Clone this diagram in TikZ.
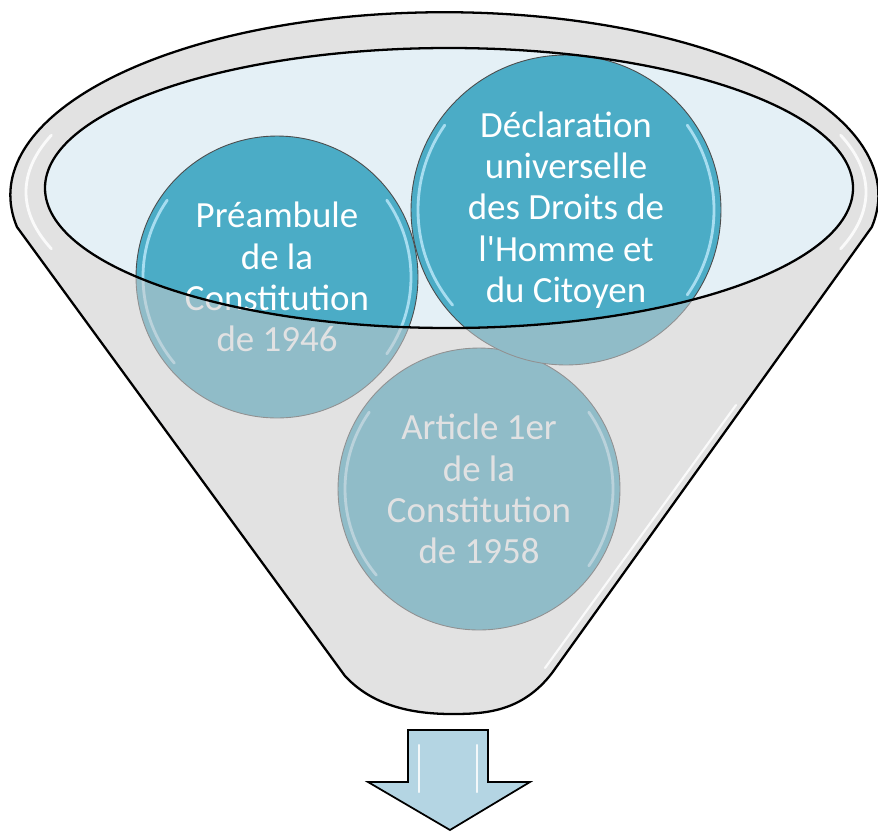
\documentclass[tikz,border=0pt]{standalone}
\usepackage{fontspec}
\setmainfont{Carlito}
\definecolor{bubbleblue}{HTML}{4BACC6}
\definecolor{mouthblue}{HTML}{E4F0F6}
\definecolor{arrowblue}{HTML}{B4D5E3}
\definecolor{frontgray}{HTML}{CACACB}
\begin{document}
\begin{tikzpicture}[x=0.02cm,y=-0.02cm,bubble/.style={circle,draw=black!70,line width=.5pt,fill=bubbleblue,text=white,align=center,inner sep=0pt,font=\fontsize{21}{23.5}\selectfont},shine/.style={draw=cyan!25!white,draw opacity=.8,line width=1.6pt,line cap=round},gloss/.style={draw=white,draw opacity=.85,line width=1.6pt,line cap=round}]
\useasboundingbox (0,0) rectangle (878,832);
% mouth of the funnel
\fill[mouthblue] (449,188) ellipse (404 and 140);
% the three sources
\node[bubble,minimum size=5.64cm] (art) at (479,489) {Article 1er\\de la\\Constitution\\de 1958};
\node[bubble,minimum size=5.64cm] (pre) at (277,277) {Préambule\\de la\\Constitution\\de 1946};
\node[bubble,minimum size=6.2cm] (ddhc) at (566,210) {Déclaration\\universelle\\des Droits de\\l\textquotesingle Homme et\\du Citoyen};
\foreach \n/\r in {pre/134,art/134,ddhc/148}{
  \draw[shine] ([shift={(140:\r)}]\n.center) arc[start angle=140,end angle=215,radius=\r];
  \draw[shine] ([shift={(-35:\r)}]\n.center) arc[start angle=-35,end angle=35,radius=\r];
}
% front of the funnel, with the mouth left open
\path[fill=frontgray,fill opacity=.55,draw=black,line width=1.3pt,even odd rule] (345,676) -- (17,227) arc[start angle=170,end angle=370,x radius=434,y radius=183] -- (552,673) .. controls (522,712) and (485,714) .. (452,714) .. controls (410,714) and (372,705) .. (345,676) -- cycle (449,188) ellipse (404 and 140);
\draw[gloss] ([shift={(160:420 and 166)}]446,192) arc[start angle=160,end angle=200,x radius=420,y radius=166];
\draw[gloss] ([shift={(-20:420 and 166)}]446,192) arc[start angle=-20,end angle=20,x radius=420,y radius=166];
\draw[gloss,line width=1.2pt] (736,405) -- (545,668);
% outlet arrow
\draw[fill=arrowblue,line width=1pt] (408,730) -- (488,730) -- (488,782) -- (530,782) -- (450,830) -- (368,782) -- (408,782) -- cycle;
\draw[gloss,line width=1.2pt] (419,745) -- (419,792) (477,745) -- (477,792);
\end{tikzpicture}
\end{document}
